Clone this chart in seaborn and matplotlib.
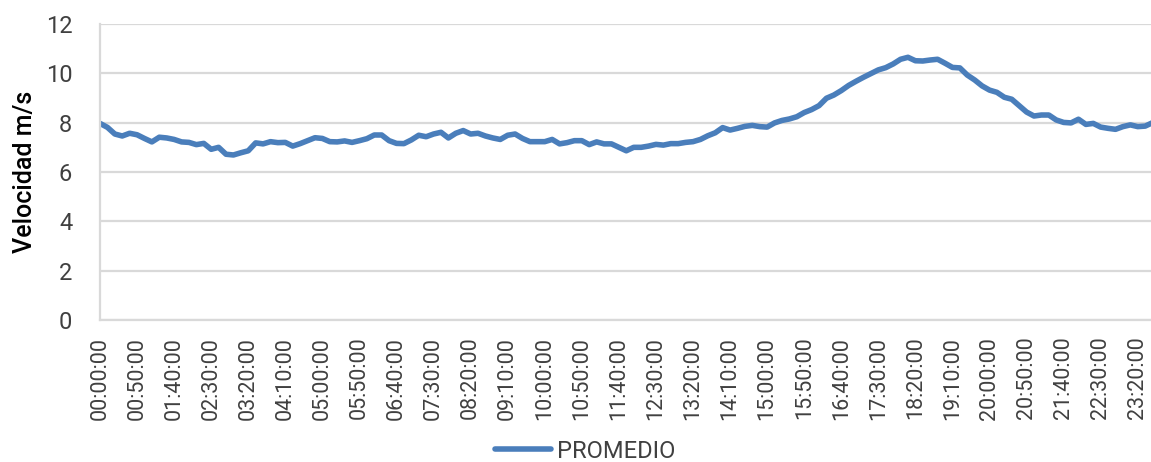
import matplotlib
matplotlib.use("Agg")
import matplotlib.pyplot as plt
import seaborn as sns
import pandas as pd
import numpy as np

# 10-minute categories over one day
times = [f"{h:02d}:{m:02d}:00" for h in range(24) for m in range(0, 60, 10)]

promedio = [
    7.97, 7.81, 7.54, 7.46, 7.57, 7.51, 7.36, 7.22, 7.41, 7.38,
    7.32, 7.22, 7.20, 7.11, 7.16, 6.92, 7.00, 6.72, 6.69, 6.78,
    6.86, 7.18, 7.14, 7.23, 7.19, 7.20, 7.05, 7.15, 7.27, 7.39,
    7.36, 7.23, 7.22, 7.26, 7.20, 7.27, 7.35, 7.50, 7.50, 7.27,
    7.16, 7.15, 7.30, 7.49, 7.43, 7.54, 7.61, 7.38, 7.57, 7.68,
    7.54, 7.57, 7.46, 7.38, 7.32, 7.49, 7.54, 7.36, 7.23, 7.23,
    7.23, 7.32, 7.14, 7.19, 7.27, 7.27, 7.11, 7.22, 7.14, 7.14,
    7.00, 6.86, 7.00, 7.00, 7.05, 7.12, 7.09, 7.15, 7.15, 7.20,
    7.23, 7.32, 7.47, 7.59, 7.80, 7.70, 7.77, 7.85, 7.89, 7.84,
    7.82, 7.99, 8.09, 8.15, 8.24, 8.41, 8.53, 8.69, 8.99, 9.12,
    9.30, 9.51, 9.68, 9.84, 9.99, 10.14, 10.23, 10.38, 10.57, 10.65,
    10.51, 10.50, 10.54, 10.57, 10.41, 10.24, 10.22, 9.93, 9.73, 9.49,
    9.32, 9.23, 9.03, 8.95, 8.69, 8.43, 8.27, 8.31, 8.31, 8.11,
    8.01, 7.99, 8.14, 7.93, 7.97, 7.82, 7.77, 7.73, 7.84, 7.91,
    7.84, 7.86, 8.00, 8.05,
]

series_name = "PROMEDIO"
y_label = "Velocidad m/s"
y_ticks = [0, 2, 4, 6, 8, 10, 12]

df = pd.DataFrame({"idx": np.arange(len(promedio)), "valor": promedio,
                   "serie": series_name})

sns.set_style("white")
plt.rcParams["font.family"] = ["Roboto", "DejaVu Sans"]

W, H = 1151, 462
fig = plt.figure(figsize=(W / 100, H / 100), dpi=100)
ax_left, ax_right = 100, 1160
ax_top, ax_bottom = 24, 320
ax = fig.add_axes([ax_left / W, 1 - ax_bottom / H,
                   (ax_right - ax_left) / W, (ax_bottom - ax_top) / H])

sns.lineplot(data=df, x="idx", y="valor", hue="serie",
             palette=["#4a7ebb"], linewidth=4.0, ax=ax, legend=False,
             solid_capstyle="round", solid_joinstyle="round")

ax.set_xlim(0, len(promedio) - 1)
ax.set_ylim(0, 12)
ax.set_yticks(y_ticks)
ax.set_yticklabels([str(v) for v in y_ticks])

tick_idx = list(range(0, len(times), 5))
ax.set_xticks(tick_idx)
ax.set_xticklabels([times[i] for i in tick_idx], rotation=90)

ax.grid(axis="y", color="#d9d9d9", linewidth=1.6)
ax.set_axisbelow(True)
for s in ["top", "right"]:
    ax.spines[s].set_visible(False)
ax.spines["left"].set_color("#d9d9d9")
ax.spines["left"].set_linewidth(1.6)
ax.spines["bottom"].set_color("#d9d9d9")
ax.spines["bottom"].set_linewidth(1.6)

ax.tick_params(axis="y", length=0, pad=20, labelsize=17, labelcolor="#404040")
ax.tick_params(axis="x", length=0, pad=12, labelsize=15.5, labelcolor="#404040")

ax.set_xlabel("")
ax.set_ylabel(y_label, fontsize=18, color="#000000", labelpad=6,
              fontweight="medium")

from matplotlib.lines import Line2D
handle = Line2D([], [], color="#4a7ebb", linewidth=4.0, solid_capstyle="round")
fig.legend([handle], [series_name], loc="center",
           bbox_to_anchor=(585 / W, 1 - 451 / H), frameon=False,
           fontsize=17, handlelength=2.4, handletextpad=0.25,
           labelcolor="#404040")

fig.savefig("out.png", dpi=100)
